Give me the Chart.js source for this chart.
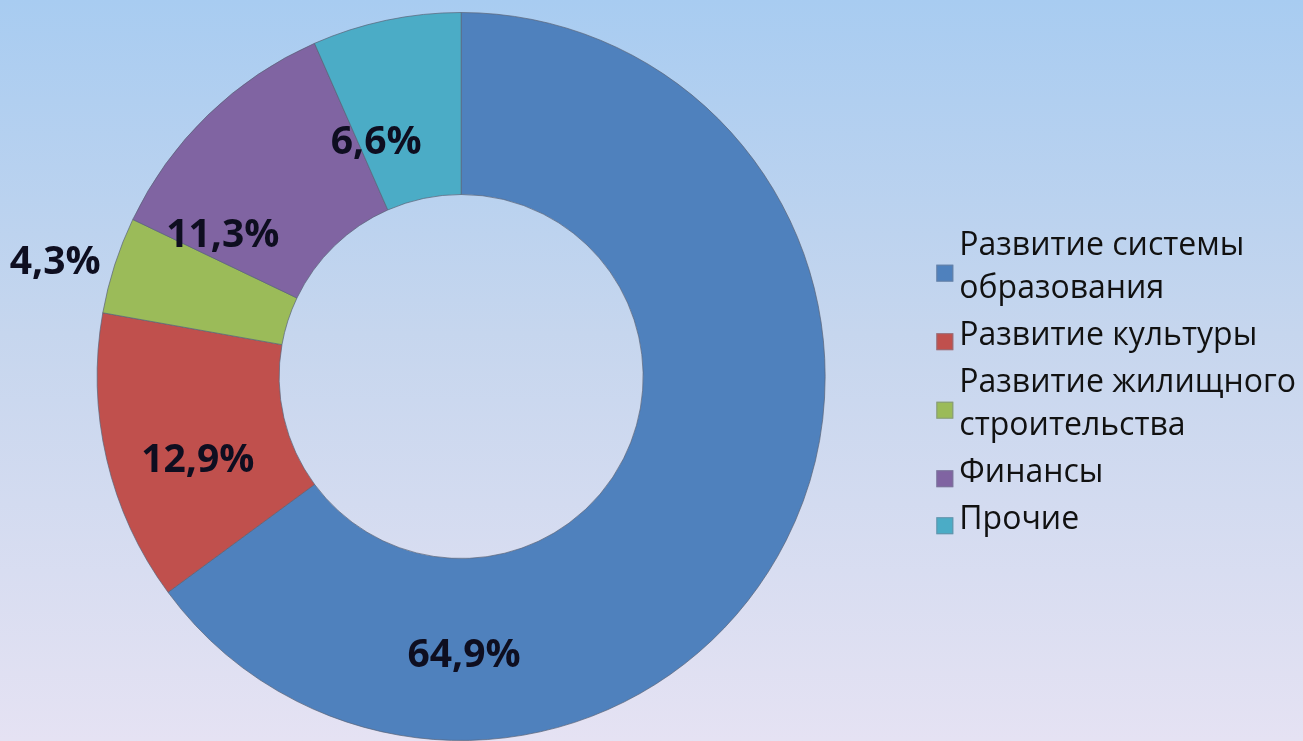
<!DOCTYPE html>
<html><head><meta charset="utf-8">
<script src="https://cdn.jsdelivr.net/npm/chart.js@4/dist/chart.umd.min.js"></script>
<style>
html,body{margin:0;padding:0;width:1303px;height:741px;overflow:hidden;}
body{background:linear-gradient(to bottom,#a8ccf1 0%,#c6d6ee 45%,#e5e2f3 100%);}
#wrap{position:relative;width:1303px;height:741px;}
</style></head>
<body><div id="wrap"><canvas id="c" width="1303" height="741"></canvas></div>
<script>
const categories = [['Развитие системы','образования'],['Развитие культуры'],['Развитие жилищного','строительства'],['Финансы'],['Прочие']];
const values = [64.9, 12.9, 4.3, 11.3, 6.6];
const valueLabels = ['64,9%','12,9%','4,3%','11,3%','6,6%'];
const colors = ['#4f81bd','#c0504d','#9bbb59','#8064a2','#4bacc6'];
// label placement: angle (deg clockwise from top) and radius as fraction of outer radius
const labelAngles = [179.4, 252.2, 285.6, 300.5, 340.0];
const labelRadii = [0.767, 0.760, 1.158, 0.760, 0.682];

const LEG_FONT = 32, LEG_BOX = 17, LEG_GAP = 6;

const labelPlugin = {
  id:'valueLabels',
  afterDatasetsDraw(chart){
    const ctx = chart.ctx;
    const meta = chart.getDatasetMeta(0);
    ctx.save();
    ctx.font = 'bold 39px "Open Sans", sans-serif';
    ctx.fillStyle = '#0e0e20';
    ctx.textAlign = 'center';
    ctx.textBaseline = 'middle';
    meta.data.forEach((arc,i)=>{
      const a = labelAngles[i]*Math.PI/180;
      const r = arc.outerRadius*labelRadii[i];
      ctx.fillText(valueLabels[i], arc.x + r*Math.sin(a), arc.y - r*Math.cos(a));
    });
    ctx.restore();
  }
};

const legendBoxPlugin = {
  id:'legendBoxes',
  afterDraw(chart){
    const lg = chart.legend;
    if(!lg || !lg.legendHitBoxes) return;
    const ctx = chart.ctx;
    ctx.save();
    lg.legendHitBoxes.forEach((hb,i)=>{
      const textX = hb.left + LEG_BOX + LEG_FONT/2;
      const bx = textX - LEG_GAP - LEG_BOX;
      const by = hb.top + hb.height/2 - LEG_BOX/2;
      ctx.fillStyle = colors[i];
      ctx.fillRect(bx, by, LEG_BOX, LEG_BOX);
      ctx.strokeStyle = 'rgba(120,130,150,0.6)';
      ctx.lineWidth = 1;
      ctx.strokeRect(bx+0.5, by+0.5, LEG_BOX-1, LEG_BOX-1);
    });
    ctx.restore();
  }
};

new Chart(document.getElementById('c'),{
  type:'doughnut',
  data:{labels:categories,datasets:[{data:values,backgroundColor:colors,borderColor:'rgba(90,100,120,0.7)',borderWidth:1}]},
  options:{
    responsive:false,animation:false,cutout:'50%',
    layout:{padding:{top:12,bottom:0,left:0,right:-3}},
    plugins:{
      tooltip:{enabled:false},
      legend:{position:'right',align:'center',
        title:{display:true,text:' ',font:{size:12,lineHeight:1.2},padding:{top:5,bottom:5}},
        labels:{boxWidth:LEG_BOX,boxHeight:LEG_BOX,padding:4,color:'#111',
          font:{family:'"Open Sans", sans-serif',size:LEG_FONT,lineHeight:1.344},
          generateLabels(chart){
            const items = Chart.overrides.doughnut.plugins.legend.labels.generateLabels(chart);
            items.forEach(it=>{it.fillStyle='rgba(0,0,0,0)';it.strokeStyle='rgba(0,0,0,0)';it.lineWidth=0;});
            return items;
          }}}
    }
  },
  plugins:[labelPlugin, legendBoxPlugin]
});
</script></body></html>
